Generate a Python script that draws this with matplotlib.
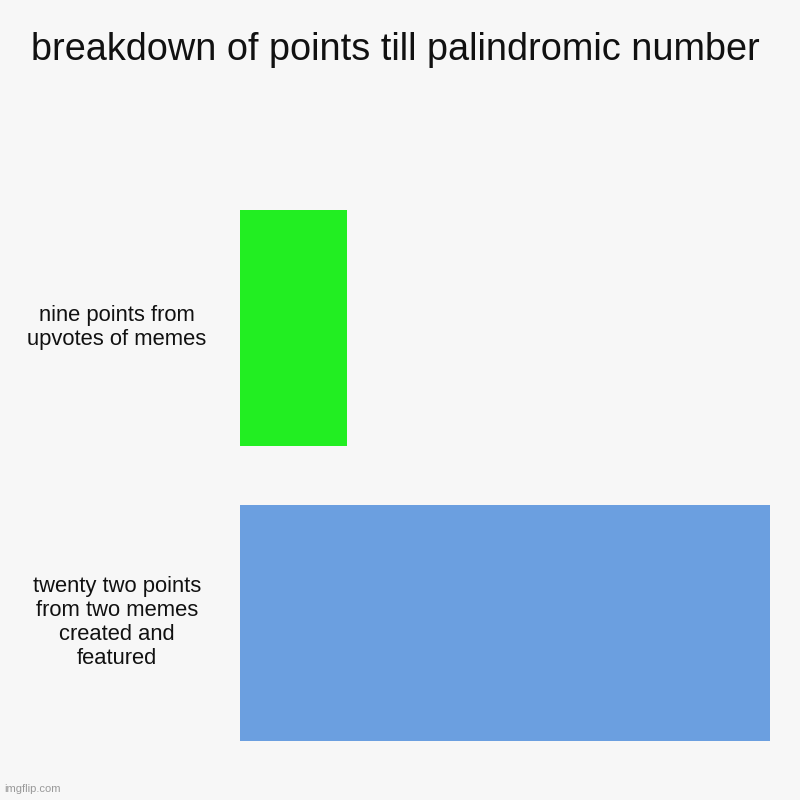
from matplotlib import pyplot as plt

plt.rcParams['font.family'] = ['Liberation Sans', 'DejaVu Sans']

labels = ['nine points from\nupvotes of memes',
          'twenty two points\nfrom two memes\ncreated and\nfeatured']
points = [9, 22]
colors = ['#22ee22', '#6b9fe0']

bg = '#f7f7f7'
fig = plt.figure(figsize=(8, 8), dpi=100, facecolor=bg)
ax = fig.add_axes([0.3, 0.0375, 0.6625, 0.7375], facecolor=bg)

ypos = list(range(len(points)))
ax.barh(ypos, points, height=0.8, color=colors)
ax.set_ylim(len(points) - 0.5, -0.5)
ax.set_xlim(5.7, 22)

ax.set_xticks([])
ax.set_yticks([])
for s in ax.spines.values():
    s.set_visible(False)

# category labels centred left of the bars
for y, lab in zip(ypos, labels):
    ax.text(-0.232, y, lab, transform=ax.get_yaxis_transform(), ha='center', va='center',
            fontsize=15.8, color='#111111', linespacing=1.2)

fig.text(0.494, 0.937, 'breakdown of points till palindromic number', ha='center', va='center',
         fontsize=27.3, color='#111111')
fig.text(0.005, 0.007, 'imgflip.com', ha='left', va='bottom', fontsize=8, color='#999999')

plt.savefig('out.png', dpi=100, facecolor=bg)
